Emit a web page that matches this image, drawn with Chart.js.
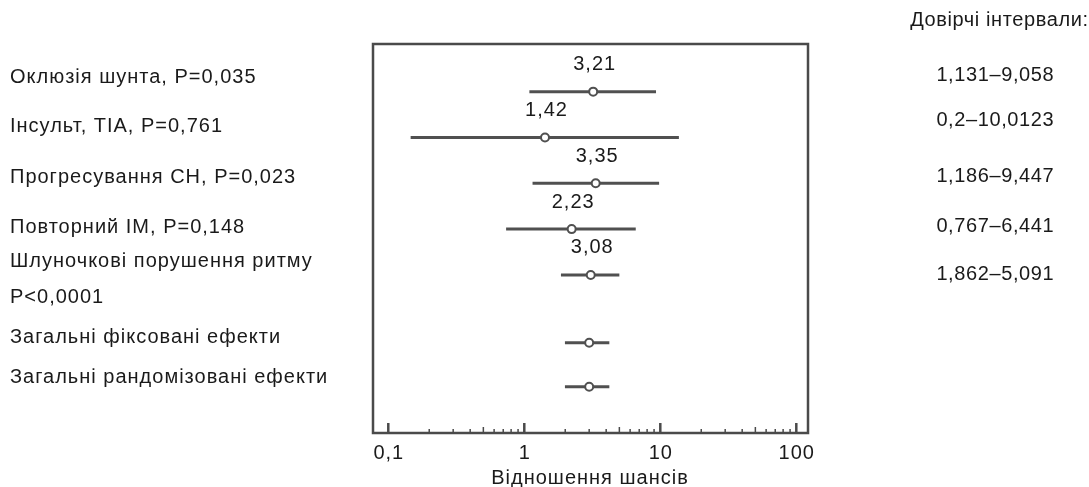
<!DOCTYPE html>
<html lang="uk">

<head>
    <meta charset="UTF-8">
    <title>Відношення шансів</title>
    <style>
        body {
            margin: 0;
            background: #fff;
            font-family: 'Liberation Sans', Arial, sans-serif;
        }

        canvas {
            display: block;
        }
    </style>
</head>

<body>
    <canvas id="forest" width="1089" height="487"></canvas>

    <script src="https://cdn.jsdelivr.net/npm/chart.js"></script>
    <script>
        // rows, top to bottom
        const rowNames = [
            ["Оклюзія шунта, P=0,035"],
            ["Інсульт, TIA, P=0,761"],
            ["Прогресування СН, P=0,023"],
            ["Повторний IM, P=0,148"],
            ["Шлуночкові порушення ритму", "P<0,0001"],
            ["Загальні фіксовані ефекти"],
            ["Загальні рандомізовані ефекти"],
        ];
        const rowPos = [1, 2, 3, 4, 5, 6.48, 7.44];
        const oddsRatio = [3.21, 1.42, 3.35, 2.23, 3.08, 3.0, 3.0];
        const ciLower = [1.09, 0.146, 1.15, 0.735, 1.86, 1.99, 1.99];
        const ciUpper = [9.3, 13.7, 9.8, 6.6, 5.0, 4.22, 4.22];
        const valueLabels = ["3,21", "1,42", "3,35", "2,23", "3,08"];
        const ciLabels = ["1,131–9,058", "0,2–10,0123", "1,186–9,447", "0,767–6,441", "1,862–5,091"];
        const tickValues = [0.1, 1, 10, 100];
        const tickLabels = ["0,1", "1", "10", "100"];

        const ink = '#1a1a1a';
        const lineGrey = '#505050';
        const font = "20px 'Liberation Sans', Arial, sans-serif";

        // text offsets from each row's centre line (px)
        const leftOffsets = [-14, -11, -6, -2, -13, -5, -9];
        const ciOffsets = [-16, -17, -7, -3, 0];

        // draw text with tracking, keeping the alignment honest
        function spaced(ctx, text, px, py, align, track = 1) {
            const w = ctx.measureText(text).width + track * (text.length - 1);
            let left = px;
            if (align === 'center') left = px - w / 2;
            if (align === 'right') left = px - w;
            ctx.textAlign = 'left';
            if ('letterSpacing' in ctx) {
                ctx.letterSpacing = track + 'px';
                ctx.fillText(text, left, py);
                ctx.letterSpacing = '0px';
            } else {
                for (const ch of text) {
                    ctx.fillText(ch, left, py);
                    left += ctx.measureText(ch).width + track;
                }
            }
        }

        const decor = {
            id: 'forestDecor',
            beforeDatasetsDraw(chart) {
                const { ctx, chartArea: a, scales: { x } } = chart;
                ctx.save();
                ctx.strokeStyle = '#4a4a4a';
                ctx.lineWidth = 2.5;
                ctx.strokeRect(a.left, a.top, a.right - a.left, a.bottom - a.top);

                // log ticks pointing up from the axis
                tickValues.forEach(d => {
                    ctx.lineWidth = 2.5;
                    let px = x.getPixelForValue(d);
                    ctx.beginPath();
                    ctx.moveTo(px, a.bottom);
                    ctx.lineTo(px, a.bottom - 10);
                    ctx.stroke();
                    if (d >= 100) return;
                    ctx.lineWidth = 1.5;
                    for (let k = 2; k <= 9; k++) {
                        px = x.getPixelForValue(k * d);
                        ctx.beginPath();
                        ctx.moveTo(px, a.bottom);
                        ctx.lineTo(px, a.bottom - (k === 5 ? 6 : 4));
                        ctx.stroke();
                    }
                });
                ctx.restore();
            },
            afterDraw(chart) {
                const { ctx, chartArea: a, scales: { x, y } } = chart;
                ctx.save();
                ctx.fillStyle = ink;
                ctx.font = font;
                ctx.textBaseline = 'middle';

                tickValues.forEach((d, i) => {
                    spaced(ctx, tickLabels[i], x.getPixelForValue(d), a.bottom + 20, 'center');
                });
                spaced(ctx, 'Відношення шансів', (a.left + a.right) / 2 - 1, a.bottom + 45, 'center');

                valueLabels.forEach((t, i) => {
                    spaced(ctx, t, x.getPixelForValue(oddsRatio[i]) + 1, y.getPixelForValue(rowPos[i]) - 27, 'center');
                });

                ciLabels.forEach((t, i) => {
                    spaced(ctx, t, 995, y.getPixelForValue(rowPos[i]) + ciOffsets[i], 'center', 0.6);
                });

                spaced(ctx, 'Довірчі інтервали:', 1088, 20, 'right', 0.6);

                rowNames.forEach((lines, i) => {
                    const base = y.getPixelForValue(rowPos[i]) + leftOffsets[i];
                    lines.forEach((t, j) => spaced(ctx, t, 10, base + j * 36, 'left'));
                });
                ctx.restore();
            }
        };

        const ciSets = rowPos.map((r, i) => ({
            data: [{ x: ciLower[i], y: r }, { x: ciUpper[i], y: r }],
            showLine: true,
            borderColor: lineGrey,
            borderWidth: 3,
            pointRadius: 0,
            order: 2,
        }));

        const pointSet = {
            data: rowPos.map((r, i) => ({ x: oddsRatio[i], y: r })),
            pointRadius: 4,
            pointBorderWidth: 2,
            backgroundColor: '#ffffff',
            borderColor: lineGrey,
            order: 1,
        };

        new Chart(document.getElementById('forest').getContext('2d'), {
            type: 'scatter',
            data: { datasets: [pointSet, ...ciSets] },
            options: {
                responsive: false,
                animation: false,
                devicePixelRatio: 1,
                layout: { padding: { left: 373, right: 281, top: 44, bottom: 54 } },
                plugins: { legend: { display: false }, tooltip: { enabled: false } },
                scales: {
                    x: { type: 'logarithmic', min: 0.0772, max: 121.9, display: false },
                    y: { type: 'linear', min: -0.04, max: 8.45, reverse: true, display: false },
                },
            },
            plugins: [decor],
        });
    </script>
</body>

</html>
